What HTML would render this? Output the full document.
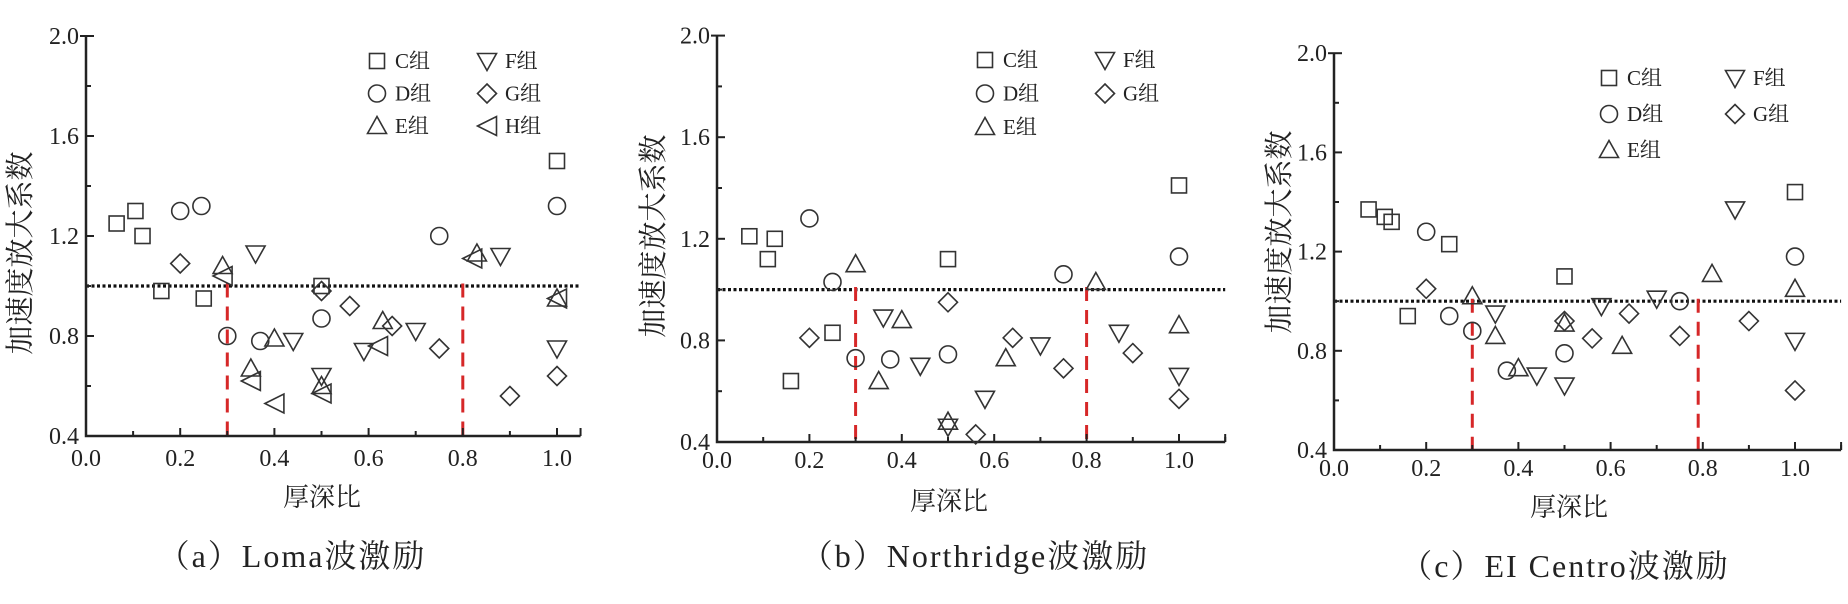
<!DOCTYPE html>
<html><head><meta charset="utf-8">
<style>
html,body{margin:0;padding:0;background:#fff;}
svg{display:block;}
text{font-family:"Liberation Serif","Noto Serif CJK SC","Noto Sans CJK SC",serif;fill:#222;}
</style></head>
<body>
<svg id="fig" width="1848" height="604" viewBox="0 0 1848 604" xmlns="http://www.w3.org/2000/svg"></svg>
<script>
// ---- data ----
const groupNames = ["C组","D组","E组","F组","G组","H组"];
const xTicks = ["0.0","0.2","0.4","0.6","0.8","1.0"];
const yTicks = ["0.4","0.8","1.2","1.6","2.0"];
// Panel (a) Loma
const aCx = [0.065,0.105,0.12,0.16,0.25,0.5,1.0];   const aCy = [1.25,1.30,1.20,0.98,0.95,1.0,1.50];
const aDx = [0.2,0.245,0.3,0.37,0.5,0.75,1.0];      const aDy = [1.30,1.32,0.80,0.78,0.87,1.20,1.32];
const aEx = [0.29,0.35,0.4,0.5,0.63,0.83,1.0];      const aEy = [1.08,0.67,0.79,0.60,0.86,1.13,0.95];
const aFx = [0.36,0.44,0.5,0.59,0.7,0.88,1.0];      const aFy = [1.13,0.78,0.64,0.74,0.82,1.12,0.75];
const aGx = [0.2,0.5,0.56,0.65,0.75,0.9,1.0];       const aGy = [1.09,0.98,0.92,0.84,0.75,0.56,0.64];
const aHx = [0.29,0.35,0.4,0.5,0.62,0.82,1.0];      const aHy = [1.04,0.62,0.53,0.57,0.76,1.11,0.95];
// Panel (b) Northridge
const bCx = [0.07,0.11,0.125,0.16,0.25,0.5,1.0];    const bCy = [1.21,1.12,1.20,0.64,0.83,1.12,1.41];
const bDx = [0.2,0.25,0.3,0.375,0.5,0.75,1.0];      const bDy = [1.28,1.03,0.73,0.725,0.745,1.06,1.13];
const bEx = [0.3,0.35,0.4,0.5,0.625,0.82,1.0];      const bEy = [1.10,0.64,0.88,0.48,0.73,1.03,0.86];
const bFx = [0.36,0.44,0.5,0.58,0.7,0.87,1.0];      const bFy = [0.89,0.70,0.46,0.57,0.78,0.83,0.66];
const bGx = [0.2,0.5,0.56,0.64,0.75,0.9,1.0];       const bGy = [0.81,0.95,0.43,0.81,0.69,0.75,0.57];
// Panel (c) El Centro
const cCx = [0.075,0.11,0.125,0.16,0.25,0.5,1.0];   const cCy = [1.37,1.34,1.32,0.94,1.23,1.10,1.44];
const cDx = [0.2,0.25,0.3,0.375,0.5,0.75,1.0];      const cDy = [1.28,0.94,0.88,0.72,0.79,1.00,1.18];
const cEx = [0.3,0.35,0.4,0.5,0.625,0.82,1.0];      const cEy = [1.02,0.86,0.73,0.91,0.82,1.11,1.05];
const cFx = [0.35,0.44,0.5,0.58,0.7,0.87,1.0];      const cFy = [0.95,0.70,0.66,0.98,1.01,1.37,0.84];
const cGx = [0.2,0.5,0.56,0.64,0.75,0.9,1.0];       const cGy = [1.05,0.92,0.85,0.95,0.86,0.92,0.64];
const refLineY = [1.0];
const zoneX = [0.3, 0.8];
const zoneXc = [0.3, 0.79];

const NS="http://www.w3.org/2000/svg";
const svg=document.getElementById('fig');
function mk(tag,attrs,parent){const e=document.createElementNS(NS,tag);for(const k in attrs)e.setAttribute(k,attrs[k]);(parent||svg).appendChild(e);return e;}

function marker(g,shape,cx,cy){
  const s=8.5, st={fill:"none",stroke:"#333","stroke-width":1.6};
  let e;
  if(shape==="C") e=mk('rect',Object.assign({x:cx-s+1,y:cy-s+1,width:2*s-2,height:2*s-2},st),g);
  else if(shape==="D") e=mk('circle',Object.assign({cx:cx,cy:cy,r:s},st),g);
  else if(shape==="E") e=mk('polygon',Object.assign({points:`${cx},${cy-s-1} ${cx+s+1},${cy+s-1} ${cx-s-1},${cy+s-1}`},st),g);
  else if(shape==="F") e=mk('polygon',Object.assign({points:`${cx},${cy+s+1} ${cx+s+1},${cy-s+1} ${cx-s-1},${cy-s+1}`},st),g);
  else if(shape==="G") e=mk('polygon',Object.assign({points:`${cx},${cy-s-1} ${cx+s+1},${cy} ${cx},${cy+s+1} ${cx-s-1},${cy}`},st),g);
  else e=mk('polygon',Object.assign({points:`${cx-s-1},${cy} ${cx+s+1},${cy-s-1} ${cx+s+1},${cy+s+1}`},st),g);
  return e;
}

function panel(p){
  const g=mk('g',{});
  
  
  const X=v=>p.x0+v*p.kx, Y=v=>p.y04-(v-0.4)*p.ky;
  const xEnd=X(p.xmax), yTop=Y(2.0), yBot=Y(0.4);
  const rl=mk('line',{x1:p.x0,x2:xEnd,y1:Y(refLineY[0]),y2:Y(refLineY[0]),stroke:"#111","stroke-width":3.2,"stroke-dasharray":"3 2.5"},g);
  
  
  p.zones.forEach(z=>{
    const d=mk('line',{x1:X(z),x2:X(z),y1:Y(1.01),y2:yBot,stroke:"#d62728","stroke-width":3,"stroke-dasharray":"14 9"},g);
    
    
  });
  const ax=mk('path',{d:`M${p.x0},${yTop} L${p.x0},${yBot} L${xEnd},${yBot}`,fill:"none",stroke:"#222","stroke-width":2.5},g);
  
  
  for(let v=0.4;v<=2.001;v+=0.2){const L=(Math.round(v*10)%4===0)?8:5;mk('line',{x1:p.x0,x2:p.x0+L,y1:Y(v),y2:Y(v),stroke:"#222","stroke-width":2},g);}
  mk('line',{x1:p.x0,x2:p.x0-6,y1:yTop,y2:yTop,stroke:"#222","stroke-width":2},g);
  for(let v=0.1;v<=p.xmax+0.001;v+=0.1){const L=(Math.round(v*10)%2===0)?8:5;mk('line',{x1:X(v),x2:X(v),y1:yBot,y2:yBot-L,stroke:"#222","stroke-width":2},g);}
  mk('line',{x1:xEnd,x2:xEnd,y1:yBot,y2:yBot-8,stroke:"#222","stroke-width":2},g);
  yTicks.forEach(t=>{const e=mk('text',{x:p.x0-7,y:Y(+t)+p.ylabdy,"text-anchor":"end","font-size":24},g);e.textContent=t;
    
    });
  xTicks.forEach(t=>{const e=mk('text',{x:X(+t),y:p.xtickY,"text-anchor":"middle","font-size":24},g);e.textContent=t;
    
    });
  const xl=mk('text',{x:p.xlab[0],y:p.xlab[1],"text-anchor":"middle","font-size":26},g);xl.textContent="厚深比";
  
  
  const yl=mk('text',{x:0,y:0,"text-anchor":"middle","font-size":29,transform:`translate(${p.ylab[0]},${p.ylab[1]}) rotate(-90)`},g);yl.textContent="加速度放大系数";
  
  
  const cap=mk('text',{x:p.cap[0],y:p.cap[1],"text-anchor":"middle","font-size":32,"letter-spacing":2},g);cap.textContent=p.caption;
  
  
  p.series.forEach(s=>{
    const sg=mk('g',{},g);
    
    
    s.xs.forEach((xv,i)=>{const m=marker(sg,s.k,X(xv),Y(s.ys[i]));
      
      });
  });
  const lg=mk('g',{},g);
  
  
  p.series.forEach((s,i)=>{
    const col=i<p.perCol?0:1, row=i<p.perCol?i:i-p.perCol;
    const mx=p.leg[0]+col*p.leg[3], my=p.leg[1]+row*p.leg[2];
    const it=mk('g',{},lg);
    
    
    marker(it,s.k,mx,my);
    const t=mk('text',{x:mx+18,y:my+7,"font-size":21},it);t.textContent=groupNames["CDEFGH".indexOf(s.k)];
  });
}

panel({name:"panel-a-loma",x0:86,kx:471,xmax:1.05,y04:436,ky:250,ylabdy:8,xtickY:466,xlab:[322,506],ylab:[30,253],cap:[292,567],caption:"（a）Loma波激励",zones:zoneX,perCol:3,leg:[377,61,32.5,110],
  series:[{k:"C",xs:aCx,ys:aCy},{k:"D",xs:aDx,ys:aDy},{k:"E",xs:aEx,ys:aEy},{k:"F",xs:aFx,ys:aFy},{k:"G",xs:aGx,ys:aGy},{k:"H",xs:aHx,ys:aHy}]});
panel({name:"panel-b-northridge",x0:717,kx:462,xmax:1.1,y04:442,ky:254,ylabdy:8,xtickY:468,xlab:[949,510],ylab:[663,236],cap:[975,567],caption:"（b）Northridge波激励",zones:zoneX,perCol:3,leg:[985,60,33.5,120],
  series:[{k:"C",xs:bCx,ys:bCy},{k:"D",xs:bDx,ys:bDy},{k:"E",xs:bEx,ys:bEy},{k:"F",xs:bFx,ys:bFy},{k:"G",xs:bGx,ys:bGy}]});
panel({name:"panel-c-elcentro",x0:1334,kx:461,xmax:1.1,y04:450,ky:248,ylabdy:8,xtickY:476,xlab:[1569,516],ylab:[1289,232],cap:[1565,577],caption:"（c）EI Centro波激励",zones:zoneXc,perCol:3,leg:[1609,78,36,126],
  series:[{k:"C",xs:cCx,ys:cCy},{k:"D",xs:cDx,ys:cDy},{k:"E",xs:cEx,ys:cEy},{k:"F",xs:cFx,ys:cFy},{k:"G",xs:cGx,ys:cGy}]});
</script>
</body></html>
